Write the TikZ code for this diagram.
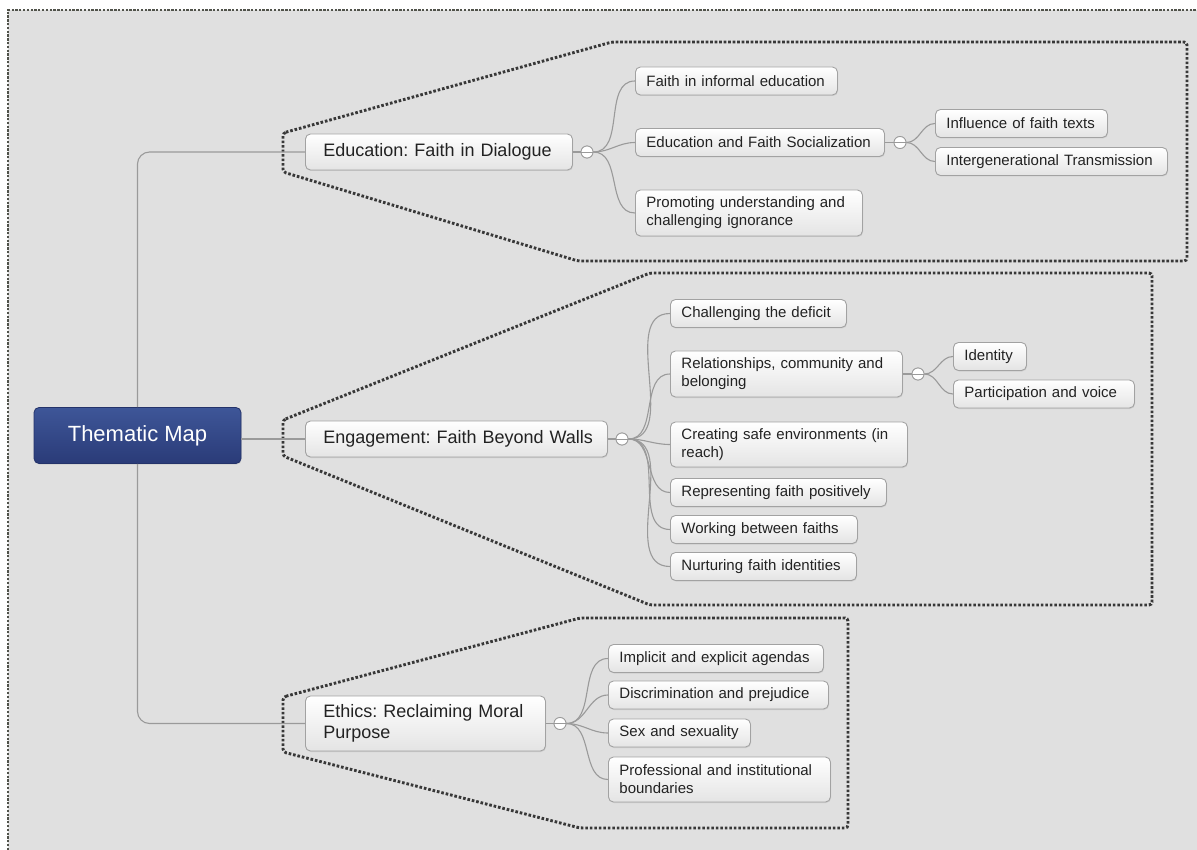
\documentclass[tikz,border=0pt]{standalone}
\usepackage{fontspec}
\setmainfont{Liberation Sans}
\usetikzlibrary{shadows}
\definecolor{bgcol}{HTML}{E0E0E0}
\definecolor{linecol}{HTML}{9A9A9A}
\definecolor{boxline}{HTML}{A2A2A2}
\definecolor{boxbot}{HTML}{E4E4E4}
\definecolor{txtcol}{HTML}{222222}
\definecolor{dotcol}{HTML}{383838}
\definecolor{framecol}{HTML}{50524A}
\definecolor{roottop}{HTML}{3E5698}
\definecolor{rootbot}{HTML}{2A3B78}
\definecolor{rootline}{HTML}{24336A}
\frenchspacing
\begin{document}
\begin{tikzpicture}[x=1pt,y=-1pt,
  boxbase/.style={rounded corners=5pt, draw=boxline, line width=0.9pt,
    top color=white, bottom color=boxbot, text=txtcol, align=left,
    drop shadow={opacity=0.18, shadow xshift=0.6pt, shadow yshift=-1pt}},
  leaf/.style={boxbase, font=\fontsize{15}{18}\selectfont, inner xsep=11pt,
    inner ysep=2pt, minimum height=28pt, anchor=west},
  branch/.style={boxbase, font=\fontsize{18}{21}\selectfont, inner xsep=18pt,
    inner ysep=2pt, minimum height=36pt, anchor=west},
  rootbox/.style={rounded corners=5pt, draw=rootline, line width=0.8pt,
    top color=roottop, bottom color=rootbot, text=white,
    font=\fontsize{22}{26}\selectfont, minimum width=207pt, minimum height=56pt,
    drop shadow={opacity=0.2, shadow xshift=0.6pt, shadow yshift=-1pt}},
  knob/.style={circle, draw=linecol, fill=white, line width=0.8pt,
    minimum size=12pt, inner sep=0pt,
    path picture={\draw[linecol, line width=0.8pt]
      (path picture bounding box.west) -- (path picture bounding box.east);}},
  conn/.style={draw=linecol, line width=1.1pt},
  fan/.style={conn, out=0, in=180},
  groupline/.style={draw=dotcol, line width=2.9pt, dash pattern=on 2.6pt off 1.9pt,
    rounded corners=3pt},
  frameline/.style={draw=framecol, line width=2.6pt, dash pattern=on 2.3pt off 1.5pt}
]
\useasboundingbox (0,0) rectangle (1197,850);
\fill[white] (0,0) rectangle (1197,850);
\fill[bgcol] (8,10) rectangle (1197,850);
\draw[frameline] (8,850) -- (8,10) -- (1197,10);

% groups
\draw[groupline] (283,133) -- (612,42) -- (1187,42) -- (1187,261) -- (578,261) -- (283,172) -- cycle;
\draw[groupline] (283,420) -- (650,273) -- (1152,273) -- (1152,605) -- (650,605) -- (283,456) -- cycle;
\draw[groupline] (283,697) -- (580,618) -- (848,618) -- (848,828) -- (580,828) -- (283,752) -- cycle;

% nodes
\node[rootbox] (root) at (137.5,435.5) {Thematic Map};

\node[branch, text width=231pt] (edu) at (305,152) {\mbox{Education: Faith in Dialogue}};
\node[branch, text width=266pt] (eng) at (305,439) {\mbox{Engagement: Faith Beyond Walls}};
\node[branch, text width=204pt, minimum height=55pt] (eth) at (305,723.5) {\mbox{Ethics: Reclaiming Moral}\\Purpose};

\node[knob] (k1) at (587,152) {};
\node[knob] (k2) at (622,439) {};
\node[knob] (k3) at (560,723.5) {};

% education children
\node[leaf, text width=180pt] (fie) at (635,81) {\mbox{Faith in informal education}};
\node[leaf, text width=227pt] (efs) at (635,142.5) {\mbox{Education and Faith Socialization}};
\node[leaf, text width=205pt, minimum height=46pt] (pro) at (635,213) {\mbox{Promoting understanding and}\\challenging ignorance};
\node[knob] (k4) at (900,142.5) {};
\node[leaf, text width=150pt] (ift) at (935,123.5) {\mbox{Influence of faith texts}};
\node[leaf, text width=210pt] (igt) at (935,161.5) {\mbox{Intergenerational Transmission}};

% engagement children
\node[leaf, text width=154pt] (ctd) at (670,313.5) {\mbox{Challenging the deficit}};
\node[leaf, text width=210pt, minimum height=46pt] (rcb) at (670,374) {\mbox{Relationships, community and}\\belonging};
\node[leaf, text width=215pt, minimum height=45pt] (cse) at (670,444.5) {\mbox{Creating safe environments (in}\\reach)};
\node[leaf, text width=194pt] (rfp) at (670,492.5) {\mbox{Representing faith positively}};
\node[leaf, text width=165pt] (wbf) at (670,529.5) {\mbox{Working between faiths}};
\node[leaf, text width=164pt] (nfi) at (670,566.5) {\mbox{Nurturing faith identities}};
\node[knob] (k5) at (918,374) {};
\node[leaf, text width=51pt] (ide) at (953,356.5) {\mbox{Identity}};
\node[leaf, text width=159pt] (pav) at (953,394) {\mbox{Participation and voice}};

% ethics children
\node[leaf, text width=193pt] (iea) at (608,658.5) {\mbox{Implicit and explicit agendas}};
\node[leaf, text width=198pt] (dap) at (608,695) {\mbox{Discrimination and prejudice}};
\node[leaf, text width=120pt] (sas) at (608,733) {\mbox{Sex and sexuality}};
\node[leaf, text width=200pt, minimum height=45pt] (pib) at (608,779.5) {\mbox{Professional and institutional}\\boundaries};

% trunk connectors
\draw[conn, rounded corners=12pt] (root.north) |- (edu.west);
\draw[conn, rounded corners=12pt] (root.south) |- (eth.west);
\draw[conn] (eng.west -| root.east) -- (eng.west);

% branch to knob
\draw[conn] (edu.east) -- (k1.west);
\draw[conn] (eng.east) -- (k2.west);
\draw[conn] (eth.east) -- (k3.west);
\draw[conn] (efs.east) -- (k4.west);
\draw[conn] (rcb.east) -- (k5.west);

% fans
\draw[fan] (k1.east) to (fie.west);
\draw[fan] (k1.east) to (efs.west);
\draw[fan] (k1.east) to (pro.west);
\draw[fan] (k4.east) to (ift.west);
\draw[fan] (k4.east) to (igt.west);
\draw[fan] (k2.east) to (ctd.west);
\draw[fan] (k2.east) to (rcb.west);
\draw[fan] (k2.east) to (cse.west);
\draw[fan] (k2.east) to (rfp.west);
\draw[fan] (k2.east) to (wbf.west);
\draw[fan] (k2.east) to (nfi.west);
\draw[fan] (k5.east) to (ide.west);
\draw[fan] (k5.east) to (pav.west);
\draw[fan] (k3.east) to (iea.west);
\draw[fan] (k3.east) to (dap.west);
\draw[fan] (k3.east) to (sas.west);
\draw[fan] (k3.east) to (pib.west);

% redraw knobs on top
\node[knob] at (k1) {};
\node[knob] at (k2) {};
\node[knob] at (k3) {};
\node[knob] at (k4) {};
\node[knob] at (k5) {};
\end{tikzpicture}
\end{document}
